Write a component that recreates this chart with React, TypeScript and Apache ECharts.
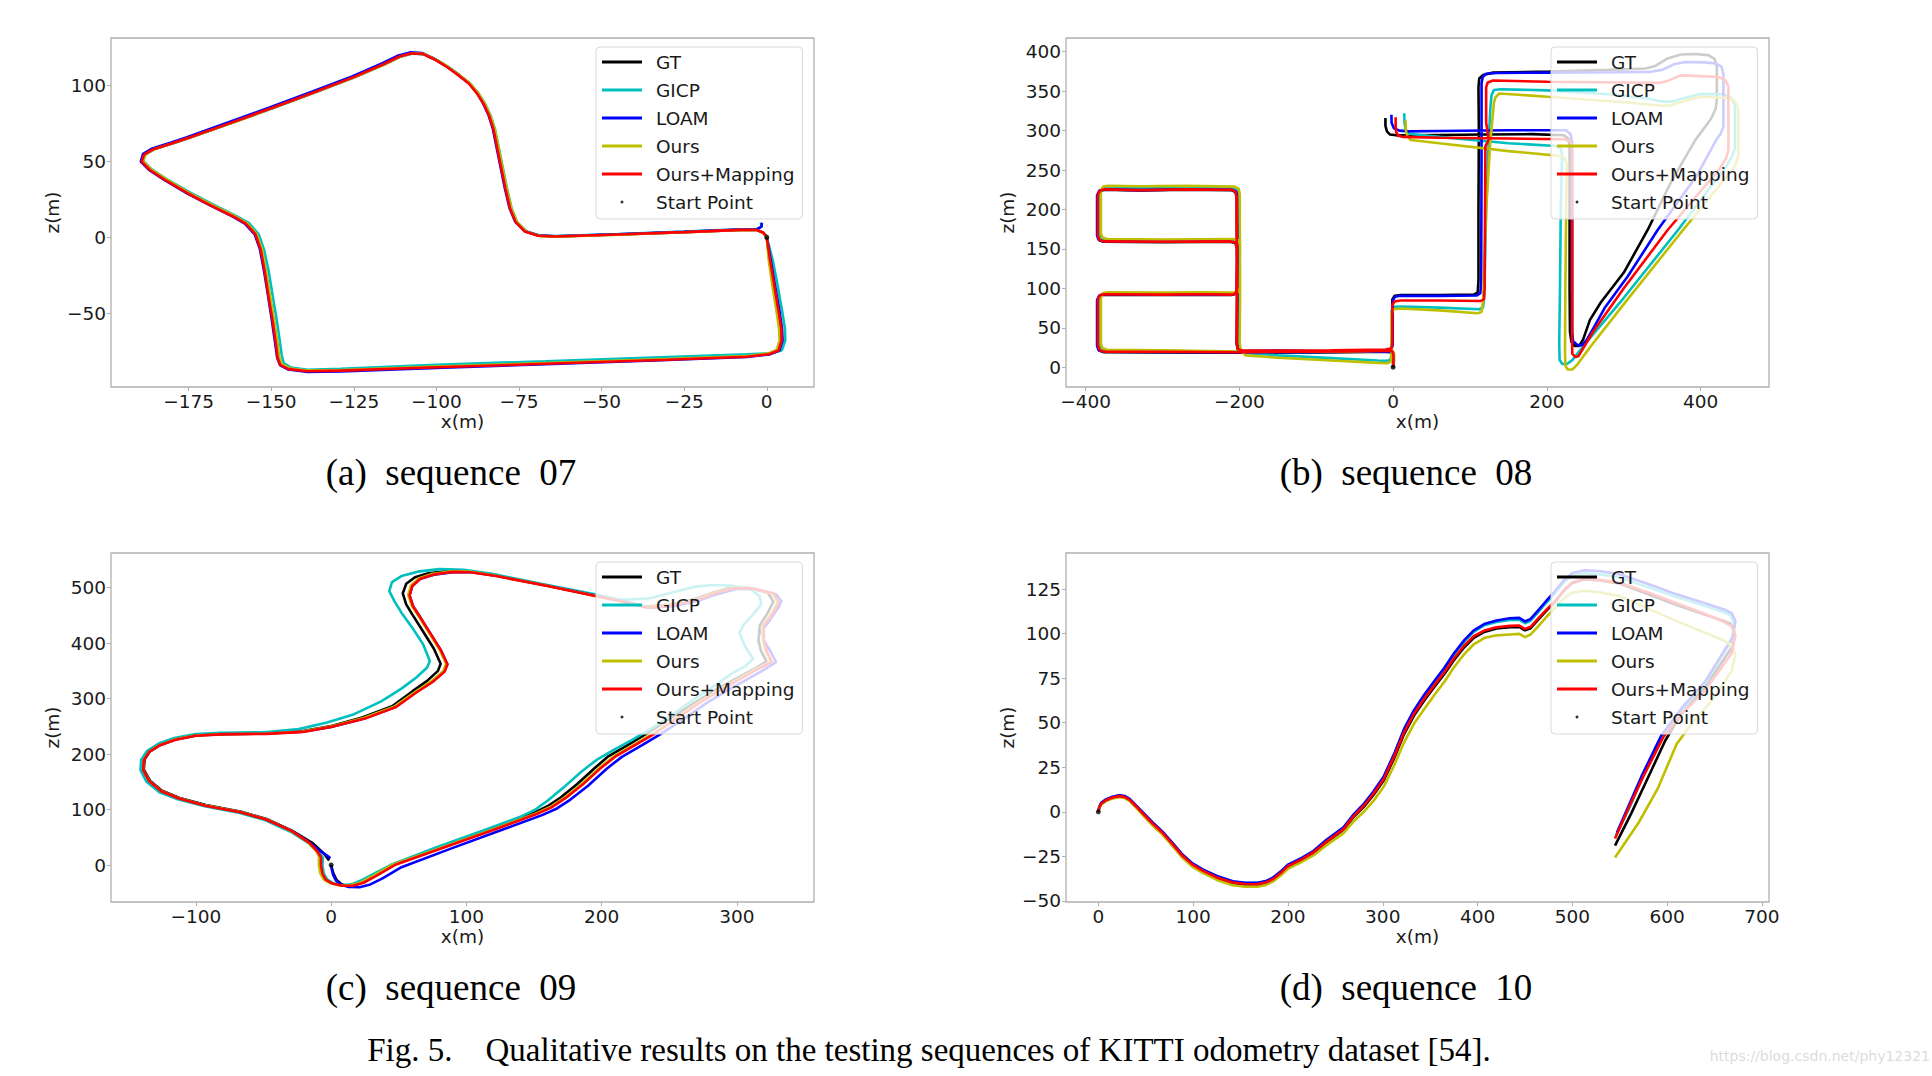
import React, { useEffect, useRef } from "react";
import * as echarts from "echarts";

// ---------- names / colours ----------
const SERIES_NAMES = ["GT", "GICP", "LOAM", "Ours", "Ours+Mapping"];
const SERIES_COLORS = ["#000000", "#00bfbf", "#0000ff", "#bfbf00", "#ff0000"];
const START_NAME = "Start Point";
const CAPTIONS = ["(a) \u00a0sequence \u00a007", "(b) \u00a0sequence \u00a008", "(c) \u00a0sequence \u00a009", "(d) \u00a0sequence \u00a010"];
const FIG_CAPTION = "Fig. 5.\u00a0\u00a0\u00a0 Qualitative results on the testing sequences of KITTI odometry dataset [54].";
const WATERMARK = "https://blog.csdn.net/phy12321";

// ---------- axis ticks ----------
const A_XTICKS = [-175, -150, -125, -100, -75, -50, -25, 0];
const A_YTICKS = [-50, 0, 50, 100];
const B_XTICKS = [-400, -200, 0, 200, 400];
const B_YTICKS = [0, 50, 100, 150, 200, 250, 300, 350, 400];
const C_XTICKS = [-100, 0, 100, 200, 300];
const C_YTICKS = [0, 100, 200, 300, 400, 500];
const D_XTICKS = [0, 100, 200, 300, 400, 500, 600, 700];
const D_YTICKS = [-50, -25, 0, 25, 50, 75, 100, 125];

// axis ranges [xmin, xmax, ymin, ymax]
const A_RANGE = [-198.5, 14.3, -98.8, 131.5];
const B_RANGE = [-425.4, 488.8, -25.1, 417.4];
const C_RANGE = [-162.8, 357.1, -66.7, 562.6];
const D_RANGE = [-34.1, 707.4, -50.6, 145.2];

const START_POINT = [[0, 0]];

// ---------- sequence 07 ----------
const A_GT = [[0,0],[0.8,-15],[2,-32],[3.2,-48],[4,-60],[4.2,-68],[3.3,-74.5],[0.5,-77],[-6,-78.5],[-30,-80.5],[-67,-83.2],[-100,-85.5],[-129,-87.8],[-139,-88.2],[-144.5,-86.8],[-147,-84],[-147.8,-79],[-148.3,-70],[-149.3,-55],[-150.6,-38],[-151.8,-22],[-153,-8],[-154.6,2],[-157.5,9],[-161,13.5],[-168,21],[-175,29],[-182,38],[-186.5,44.5],[-189,50],[-188.3,54.5],[-185.5,58],[-180,61.8],[-175,65.5],[-162,75.5],[-150,85],[-137,95.5],[-125,105.5],[-116,114],[-111,119.3],[-107.5,121.3],[-104,121],[-100.5,117.5],[-97,113],[-93.5,107.5],[-90,101.5],[-87.5,95],[-85.5,88],[-83.8,80],[-82.5,71],[-81.3,58],[-80.2,46],[-78.9,32],[-77.5,19],[-75.8,10],[-73,3.8],[-69,1],[-64,0.5],[-45,1.8],[-25,3.4],[-8,4.9],[-3,4.8],[-1,3],[-0.2,1]];
const A_GICP = [[0,0],[1.8,-15],[3.3,-32],[4.6,-48],[5.5,-60],[5.6,-68],[4.6,-74.5],[1.5,-76.5],[-6,-77.3],[-30,-79],[-67,-81.8],[-100,-84.2],[-129,-86.8],[-139,-87.4],[-144,-86],[-146.2,-83],[-146.8,-78],[-147.3,-70],[-148.3,-55],[-149.6,-38],[-150.8,-22],[-152.2,-8],[-153.8,2],[-156.8,9.5],[-160.5,14],[-167.5,21.5],[-174.5,29.5],[-181.8,38.5],[-186.3,45],[-188.8,50.5],[-188,55],[-185.2,58.5],[-179.8,62],[-174.8,65.6],[-161.8,75.5],[-149.8,85],[-136.8,95.5],[-124.8,105.5],[-115.8,114],[-110.8,119.2],[-107.3,121.2],[-103.7,120.8],[-100.2,117.3],[-96.7,112.8],[-93.2,107.3],[-89.7,101.3],[-87.2,94.8],[-85.2,87.8],[-83.5,79.8],[-82.2,70.8],[-81,57.8],[-79.9,45.8],[-78.6,31.8],[-77.2,18.8],[-75.5,9.8],[-72.7,3.8],[-68.7,1.2],[-64,0.8],[-45,2.2],[-25,3.8],[-8,5.3],[-3,5.5],[-1.5,7],[-1.8,9.8]];
const A_LOAM = [[0,0],[1.2,-15],[2.5,-32],[3.8,-48],[4.6,-60],[4.8,-68],[3.8,-74.8],[0.8,-77.3],[-6,-78.9],[-30,-81],[-67,-83.8],[-100,-86.2],[-129,-88.5],[-139,-88.9],[-144.8,-87.3],[-147.3,-84.5],[-148.2,-79.5],[-148.8,-70],[-149.8,-55],[-151,-38],[-152.2,-22],[-153.4,-8],[-155,2],[-158,9],[-161.5,13.5],[-168.5,21],[-175.5,29],[-182.5,38],[-187,44.5],[-189.5,50],[-188.8,55],[-186,58.6],[-180.5,62.4],[-175.5,66.1],[-162.5,76.2],[-150.5,85.7],[-137.5,96.2],[-125.5,106.2],[-116.5,114.7],[-111.5,120],[-108,122],[-104.3,121.6],[-100.8,118],[-97.3,113.5],[-93.8,108],[-90.3,102],[-87.8,95.5],[-85.9,88.5],[-84.2,80.5],[-82.9,71.5],[-81.7,58.5],[-80.6,46.5],[-79.3,32.5],[-77.9,19.5],[-76.2,10.5],[-73.4,4.2],[-69.3,1.3],[-64,0.7],[-45,2],[-25,3.6],[-8,5.1],[-3,5.2],[-1.6,7],[-1.5,9.5]];
const A_OURS = [[0,0],[0.6,-15],[1.7,-32],[2.9,-48],[3.7,-60],[3.9,-68],[3,-74.3],[0.3,-76.8],[-6,-78.3],[-30,-80.3],[-67,-83],[-100,-85.3],[-129,-87.6],[-139,-88],[-144.3,-86.6],[-146.8,-83.8],[-147.6,-78.8],[-148.1,-70],[-149.1,-55],[-150.4,-38],[-151.6,-22],[-152.8,-8],[-154.4,2],[-157.3,9.2],[-160.8,13.7],[-167.8,21.2],[-174.8,29.2],[-181.8,38.2],[-186.3,44.7],[-188.8,50.2],[-188.1,54.7],[-185.3,58.2],[-179.8,62],[-174.8,65.6],[-161.8,75.6],[-149.8,85.1],[-136.8,95.6],[-124.8,105.6],[-115.8,114],[-110.8,119.4],[-107.3,121.3],[-103.8,121],[-100.3,117.4],[-96.8,112.9],[-93.3,107.4],[-89.8,101.4],[-87.3,94.9],[-85.3,87.9],[-83.6,79.9],[-82.3,70.9],[-81.1,57.9],[-80,45.9],[-78.7,31.9],[-77.3,18.9],[-75.6,9.9],[-72.8,3.7],[-68.8,0.9],[-64,0.4],[-45,1.7],[-25,3.3],[-8,4.8],[-3,4.7],[-1,2.8],[-0.2,0.8]];
const A_MAP = [[0,0],[1,-15],[2.3,-32],[3.5,-48],[4.4,-60],[4.5,-68],[3.6,-74.7],[0.6,-77.2],[-6,-78.8],[-30,-80.8],[-67,-83.5],[-100,-85.8],[-129,-88],[-139,-88.4],[-144.7,-87],[-147.3,-84.2],[-148.1,-79.2],[-148.6,-70],[-149.6,-55],[-150.9,-38],[-152,-22],[-153.2,-8],[-154.8,2],[-157.7,9],[-161.2,13.4],[-168.2,20.9],[-175.2,28.9],[-182.2,37.9],[-186.7,44.4],[-189.2,49.9],[-188.5,54.5],[-185.7,58.1],[-180.2,61.9],[-175.2,65.5],[-162.2,75.5],[-150.2,85],[-137.2,95.5],[-125.2,105.5],[-116.2,114],[-111.2,119.3],[-107.7,121.3],[-104.2,121],[-100.7,117.5],[-97.2,113],[-93.7,107.5],[-90.2,101.5],[-87.7,95],[-85.7,88],[-84,80],[-82.7,71],[-81.5,58],[-80.4,46],[-79.1,32],[-77.7,19],[-76,10],[-73.2,3.8],[-69.2,1],[-64,0.5],[-45,1.8],[-25,3.4],[-8,4.9],[-3,4.8],[-1.2,3.2],[-0.4,1.2]];

// ---------- sequence 08 ----------
const B_GT = [[0,0],[0,10],[-0.5,19],[-10,19.5],[-60,19],[-120,18.5],[-200,18.5],[-300,18.8],[-376,19],[-382,21],[-384,27],[-384,85],[-381,91],[-375,92],[-300,91.5],[-250,92],[-210,91.5],[-205,93],[-203.5,98],[-203,150],[-205,157.5],[-212,159],[-300,158.5],[-376,159],[-382,161],[-384,167],[-384,218],[-381,223.5],[-375,225],[-330,224],[-270,225],[-210,224.5],[-205,222],[-203.5,216],[-203,100],[-203.5,30],[-202,22],[-196,20],[-150,20.5],[-80,19.5],[-10,20],[-2,22],[-1,30],[-1,86],[2,90.5],[10,91.5],[60,91.5],[105,92],[110,95],[111,110],[111,200],[111.5,300],[111,355],[112,366],[117,370.5],[130,373.5],[203,375],[280,377],[328,378.8],[341,382],[357,391.5],[374,396.5],[393,397.2],[410,395.7],[418,391],[421,380],[421,340],[419.5,328],[414,316],[406,305],[393,288],[362,236],[331,174],[300,120],[270,82],[256,60],[247,35],[242,27],[236,27],[232,32],[230,45],[229.5,100],[229.5,200],[229.5,280],[228,290],[222,294],[180,295.5],[120,295],[60,294.5],[12,294],[4,294],[-4,295],[-8,299],[-10,306],[-10,316]];
const B_GICP = [[0,0],[1,8],[1,18],[-2,20.5],[-10,20.5],[-60,19.5],[-120,19],[-200,19.5],[-300,20.5],[-373,21],[-379,23],[-381,29],[-381,87],[-378,93],[-372,94],[-300,93.5],[-250,94],[-207,93.5],[-202,95],[-200.5,100],[-200,152],[-202,159.5],[-209,161],[-300,160.5],[-373,161],[-379,163],[-381,169],[-381,221],[-378,226.5],[-372,228],[-330,227],[-270,228],[-207,227],[-202,224],[-200.5,218],[-200,100],[-200.5,30],[-199,22],[-193,18],[-150,15],[-80,11.5],[-20,8.5],[-8,8],[-3,10],[-2,20],[-2,72],[1,76.5],[10,77],[60,75.5],[112,73.5],[117,76],[118.5,90],[121,200],[124,280],[126.5,330],[128,345],[131,351.5],[140,352.5],[200,351],[280,346],[330,341],[348,337],[362,336.5],[380,341.5],[400,346.5],[430,346],[439,342],[444.6,332],[444.6,278],[441,268],[434,256],[370.5,174],[300,88],[250,30],[233,9],[226,4],[220,4],[216.5,9],[216,30],[217,100],[218,200],[219.7,270],[218,277],[212,280.5],[150,284],[60,292],[20,296],[16.5,300],[14.8,310],[14.5,322]];
const B_LOAM = [[0,0],[0.3,10],[0,19],[-10,19.8],[-60,19.5],[-120,19],[-200,19],[-300,19.3],[-377,19.5],[-383,21.5],[-385,27],[-385,85],[-382,91],[-376,92.5],[-300,92],[-250,92.3],[-210,92],[-204,93.5],[-202.5,98],[-202,150],[-204,157.5],[-211,159.5],[-300,159],[-377,159.5],[-383,161.5],[-385,167],[-385,218],[-382,224],[-376,225.5],[-330,224.5],[-270,225.5],[-210,225],[-204,222.5],[-202.3,216],[-202,100],[-202.5,30],[-201,22],[-195,20.5],[-150,21],[-80,20],[-10,21],[-2,23],[-0.5,30],[-0.5,84],[2.5,89.5],[10,90.5],[60,90.5],[109,91],[113.5,94],[114.5,110],[114.8,200],[115,300],[115,360],[116.5,368],[121,372],[135,373],[203,373.5],[290,374],[335,374.5],[350,377],[365,384],[380,387],[405,386.5],[420,385],[427,381],[429.5,372],[429.5,305],[426,296],[420,288],[395,243],[344,174],[305,115],[275,75],[262,52],[252,35],[246,28],[240,28],[234,33],[232.8,45],[232.8,100],[232.8,200],[232.8,285],[231,295],[225,300.5],[150,300.5],[60,299.5],[20,299],[8,300],[1,303],[-2,310],[-2.2,320]];
const B_OURS = [[0,0],[1,8],[1,18],[-2,21],[-10,21],[-60,20],[-120,19.5],[-200,20],[-300,21.5],[-372,22],[-378,24],[-380,30],[-380,88],[-377,94],[-371,95],[-300,94.5],[-250,95],[-206,94.5],[-201,96],[-199.5,101],[-199,154],[-201,161],[-208,162.5],[-300,162],[-372,162.5],[-378,164.5],[-380,170],[-380,224],[-377,229],[-371,230],[-330,229.5],[-270,230],[-206,229],[-201,226.5],[-199.5,220],[-199,100],[-199.5,30],[-198,21],[-192,15],[-150,12],[-80,8.5],[-20,5.5],[-8,5],[-3,7],[-2,18],[-2,68],[1,73.5],[10,74.5],[60,72],[110,68.5],[115,70],[117,85],[121,200],[126,280],[131,335],[133,342],[138,347],[200,343],[300,336],[350,331.5],[362,332],[380,338],[400,343],[440,341],[446,335],[449,326],[449,270],[446,258],[440,249],[377,174],[300,80],[255,24],[240,4],[233,-3],[227,-3],[224,2],[223.5,20],[224,100],[225,200],[226,258],[223,265],[216,268],[150,274],[60,284],[23,288],[18.5,293],[16.6,300],[16.4,313]];
const B_MAP = [[0,0],[0.5,5],[0.5,15],[-1,20.5],[-10,21],[-60,20],[-120,19.5],[-200,19],[-300,19.5],[-376,19.5],[-382,22],[-384,28],[-384,86],[-381,91.5],[-375,92.5],[-300,92],[-250,92.5],[-210,92],[-205,93.5],[-203.5,98],[-203,150],[-205,158],[-212,159.5],[-300,159],[-376,159.5],[-382,161.5],[-384,167],[-384,219],[-381,224],[-375,225.5],[-330,224.5],[-270,225.5],[-210,225],[-205,222.5],[-203.5,216],[-203,100],[-203.5,30],[-202,23],[-196,21],[-150,21],[-80,21.5],[-10,22.5],[-2,24],[-1,32],[-1,79],[2,83.5],[10,84.5],[60,84.5],[114,84],[118,86],[119,100],[119.5,200],[120,280],[124,288],[123.5,295],[121,310],[121,355],[123,361],[130,363.5],[200,362],[300,361],[345,360.5],[357,363],[374,370],[400,369],[423,368],[432,364],[436,356],[436,275],[433,265],[425,252],[357,174],[300,100],[260,45],[246,22],[241,14],[237,13],[233,17],[232.8,30],[232.8,100],[232.8,200],[232.8,280],[230,286.5],[223,289],[150,290],[60,291],[13,292],[7,293.5],[4,298],[3.3,305],[3.3,317]];

// ---------- sequence 09 ----------
const C_GT = [[0,0],[1.5,-14],[4,-27],[8,-35],[13,-38],[20,-34],[30,-22],[45.6,1],[83,34],[120,67],[150,94],[160,106],[170,122],[182,146],[195,175],[205,196],[220,217],[232,235],[251,265],[270,294],[286,318],[300,337],[314,355],[322,367],[318,385],[316,405],[317,432],[323,455],[327,475],[323,491],[308,500],[295,500],[281,490],[268,479],[250,469],[232,466],[213,477],[195,486],[158,505],[120,523],[101,530],[86,530],[72,526],[62,519],[55.5,507],[53,490],[55.5,470],[60,452],[68,421],[76,390],[81,363],[79,350],[71,332],[60,313],[45.6,287],[23,266],[1,251],[-21.7,241],[-47.8,237.5],[-81.4,236.5],[-100,234],[-115,227],[-126,217],[-134,205],[-138,190],[-138.5,172],[-134,152],[-125,134],[-112,121],[-92.6,108],[-66.5,96],[-47.8,83],[-29,62],[-14,40],[-5,20],[-1.5,8]];
const C_GICP = [[-6,14],[-6.5,0],[-5.5,-15],[-3,-26],[1.5,-33],[8,-36.5],[15,-35],[22,-28],[32,-15],[45,1],[78,32],[112,62],[141,88],[151,100],[160,116],[172,140],[185,168],[196,189],[210,209],[223,226],[242,254],[258,281],[272,305],[286,327],[296,345],[306,358],[312,372],[306,395],[302,418],[305,433],[312,452],[318,470],[317,484],[310,498],[295,504],[282,505],[270,502],[255,493],[236,481],[215,478],[195,488],[157,506],[119,525],[98,532.5],[80,533.5],[64,529],[52,521],[45,510],[43,494],[47,475],[52,455],[60,428],[68,398],[73,368],[71,356],[63,338],[52,318],[37,295],[17,272],[-3,257],[-24,245],[-49,239.5],[-81.4,238.5],[-100,236],[-116,229],[-127.5,219],[-136,206],[-140.5,190],[-141,171],[-136.5,150],[-127,131],[-113.5,118.5],[-93.5,106],[-67.5,94],[-49,81],[-30,60],[-17,40],[-10,24],[-6,14]];
const C_LOAM = [[0,0],[0.5,-8],[1.5,-18],[3.5,-28],[7,-35],[13,-39.5],[21,-40],[29,-35],[38,-24],[52,-4],[89,30],[126,63],[156,90],[167,102],[177,118],[190,143],[204,174],[215,195],[230,216],[243,235],[260,262],[277,291],[293,315],[307,334],[320,352],[329,366],[325,385],[320,405],[318,421],[324,440],[331,465],[333,476],[329,488],[313,498],[300,498],[285,488],[272,477],[254,467],[236,464],[217,475],[199,484],[161,503],[123,521],[104,528],[90,528],[76,523.5],[66,516],[60,503],[58,486],[60.5,467],[65,450],[73,419],[81,388],[86,362],[83.5,349],[74.5,330],[62.5,311],[47.5,285],[24.5,264],[2,250],[-21,240.5],[-47.8,237],[-81.4,236],[-100,233.5],[-115,226.5],[-126.5,216.5],[-134.5,204.5],[-138.5,189.5],[-139,171.5],[-134.5,151.5],[-125.5,133.5],[-112.5,120.5],[-93,107.5],[-67,95.5],[-48,82.5],[-29,61.5],[-16,41],[-8,25],[-3,17],[-0.5,12]];
const C_OURS = [[-9,16],[-9,0],[-8,-15],[-5.5,-26],[-0.5,-33],[6.5,-37],[14,-37],[22,-31.5],[31,-19.5],[45.5,0.5],[84,33.5],[121,65.5],[151,92.5],[162,104.5],[172,120.5],[185,145.5],[199,176.5],[210,197.5],[225,218.5],[239,238.5],[255,265.5],[272,293.5],[288,317.5],[302,336.5],[315,354.5],[325,366.5],[321,386],[319,406],[319,432],[326,455],[330,474],[326,490],[310,499.5],[297,499.5],[282,489.5],[269,478.5],[251,468.5],[233,465],[214,476],[196,485],[159,504],[121,522],[102,529],[89,529.5],[75,525],[65,517],[59,504],[57,487],[59.5,468],[64,451],[72,420],[80,389],[85,363],[83,350],[74,331],[62,312],[47,286],[24,265],[1.5,250.5],[-21.5,240.5],[-47.8,237],[-81.4,236],[-100,233.5],[-115.5,226.5],[-126.5,216.5],[-134.5,204.5],[-138.5,189.5],[-139,171.5],[-134.5,151.5],[-125.5,133.5],[-112.5,120.5],[-93,107.5],[-67,95.5],[-48,82.5],[-29.5,61.5],[-17,41],[-11,25],[-9,16]];
const C_MAP = [[-7.5,14],[-7.5,0],[-6.5,-15],[-4,-26.5],[1,-33.5],[8,-37.5],[16,-37.5],[24,-32],[33,-20],[47,0],[85,33],[122,65],[152,92],[163,104],[173,120],[186,145],[200,176],[211,197],[226,218],[240,238],[256,265],[273,293],[289,317],[303,336],[316,354],[326,366],[322,386],[320,406],[320,432],[327,455],[331,474],[327,490],[311,499],[298,499],[283,489],[270,478],[252,468],[234,464],[215,475],[197,484],[160,503],[122,521],[103,528],[90,528.5],[76,524],[66,516],[60,503],[58,486],[60.5,467],[65,450],[73,419],[81,388],[86,362],[84,349],[75,330],[63,311],[48,285],[25,264],[2,250],[-21,240],[-47.8,236.5],[-81.4,235.5],[-100,233],[-115,226],[-126.5,216],[-134.5,204],[-138.5,189],[-139,171],[-134.5,151],[-125.5,133],[-112.5,120],[-93,107],[-67,95],[-48,82],[-29,61],[-16,40],[-10,24],[-7.5,14]];

// ---------- sequence 10 ----------
const D_GT = [[0,0],[1,2.3],[3,4.3],[8,6.3],[15,7.8],[22,8.6],[28,8.1],[33,6.5],[40,2.8],[46,-0.6],[57,-6.7],[67.4,-11.8],[78,-18.2],[88.7,-24.9],[99,-29.7],[110,-33.2],[125,-37],[141.8,-39.9],[155,-40.7],[168,-40.8],[177,-39.7],[184,-38],[193,-34.2],[200,-30.7],[205.5,-29.2],[215,-26.7],[226.8,-23],[240,-17.3],[258.6,-10],[270,-2.5],[280,2.8],[290,9.3],[301,17.6],[312,30],[322.5,43.6],[333,54],[343.6,62.3],[355,70.5],[365,77.3],[375,85],[386,92.3],[396,97.6],[407,100.9],[420,102.8],[434,103.6],[444,103.7],[450,101.8],[456,103],[463,107.2],[472,112.4],[482,118],[492,124.6],[500,128.4],[513,130.5],[530,129.8],[550,128],[580,122],[610,116],[640,110.5],[660,107],[667,105.5],[671,101],[668,92],[640,70],[615,55],[598,40],[577,16],[562,-1],[545,-19]];
const D_GICP = [[0,0],[1,2.6],[3,4.7],[8,6.8],[15,8.3],[22,9.1],[28,8.6],[33,7],[40,3.3],[46,0],[57,-6],[67.4,-11.2],[78,-17.5],[88.7,-24.2],[99,-29],[110,-32.5],[125,-36.2],[141.8,-39.2],[155,-40],[168,-40],[177,-39],[184,-37.2],[193,-33.4],[200,-30],[205.5,-28.4],[215,-26],[226.8,-22.2],[240,-16.3],[258.6,-9],[270,-1.4],[280,4],[290,10.8],[301,19.3],[312,32],[322.5,46],[333,56.4],[343.6,65],[355,73.2],[365,80.2],[375,88],[386,95.5],[396,101],[407,104.6],[420,106.5],[434,107.6],[444,107.8],[450,105.8],[456,107.2],[463,111.5],[472,117],[482,123],[492,129.3],[500,132.5],[513,133.8],[530,133.2],[550,131.5],[580,126],[610,120.5],[640,115.5],[660,112],[667,110],[671,105],[668,96],[640,72],[615,57],[595,42.5],[574,19.5],[560,2],[546,-13]];
const D_LOAM = [[0,0],[1,2.8],[3,5],[8,7],[15,8.5],[22,9.3],[28,8.8],[33,7.2],[40,3.5],[46,0.2],[57,-5.8],[67.4,-11],[78,-17.3],[88.7,-24],[99,-28.8],[110,-32.3],[125,-36],[141.8,-39],[155,-39.8],[168,-39.8],[177,-38.8],[184,-37],[193,-33.2],[200,-29.7],[205.5,-28.2],[215,-25.7],[226.8,-22],[240,-16],[258.6,-8.7],[270,-1],[280,4.5],[290,11.2],[301,19.8],[312,32.5],[322.5,46.5],[333,57],[343.6,65.5],[355,73.8],[365,80.8],[375,88.8],[386,96.3],[396,101.8],[407,105.3],[420,107.3],[434,108.6],[444,108.8],[450,106.8],[456,108.2],[463,112.5],[472,118],[482,124],[492,130.5],[500,134],[513,135.5],[530,135],[550,133.2],[580,127.8],[610,122],[640,117],[660,113.5],[668,111.5],[672,107],[669,98],[640,73],[615,58],[594,43],[573,20],[559,3],[547,-11.6]];
const D_OURS = [[0,0],[1,2],[3,4],[8,6],[15,7.5],[22,8.2],[28,7.7],[33,6],[40,2.2],[46,-1.3],[57,-7.5],[67.4,-12.6],[78,-19],[88.7,-25.8],[99,-30.7],[110,-34.3],[125,-38.2],[141.8,-41.2],[155,-42],[168,-42],[177,-41],[184,-39.2],[193,-35.5],[200,-32],[205.5,-30.5],[215,-28],[226.8,-24.5],[240,-19],[258.6,-12],[270,-5],[280,0],[290,6],[301,14],[312,26],[322.5,39],[333,49.5],[343.6,57.5],[355,66],[365,73],[375,81],[386,88.5],[396,94],[407,97.5],[420,99],[434,99.5],[444,99.8],[450,98],[456,99.5],[463,103.5],[472,109],[482,114.5],[492,120],[500,123],[513,124],[530,123],[550,121],[580,114],[610,107],[640,100.5],[660,96],[668,93.5],[672,88],[668,79],[648,63],[628,51],[610,38],[590,13],[570,-6],[545,-25.6]];
const D_MAP = [[0,0],[1,2.5],[3,4.5],[8,6.5],[15,8],[22,8.8],[28,8.3],[33,6.7],[40,3],[46,-0.4],[57,-6.5],[67.4,-11.6],[78,-18],[88.7,-24.7],[99,-29.5],[110,-33],[125,-36.8],[141.8,-39.7],[155,-40.5],[168,-40.6],[177,-39.5],[184,-37.8],[193,-34],[200,-30.5],[205.5,-29],[215,-26.5],[226.8,-22.8],[240,-17],[258.6,-9.7],[270,-2],[280,3.4],[290,10],[301,18.4],[312,31],[322.5,44.6],[333,55],[343.6,63.3],[355,71.5],[365,78.3],[375,86],[386,93.3],[396,98.5],[407,101.7],[420,103.5],[434,104.3],[444,104.5],[450,102.6],[456,103.8],[463,108],[472,113],[482,118.5],[492,125],[500,128.8],[513,130.7],[530,130],[550,128.5],[580,123],[610,117],[640,111],[660,106.5],[668,104],[672,99],[668,89],[640,68],[615,55],[596,42],[575,20],[560,3],[545,-15]];

// ---------- layout ----------
const GRIDS = [
  { left: 111, top: 38, width: 703, height: 349 },
  { left: 1066, top: 38, width: 703, height: 349 },
  { left: 111, top: 553, width: 703, height: 349 },
  { left: 1066, top: 553, width: 703, height: 349 },
];
const LEGEND_POS = [
  { left: 596, top: 47 },
  { left: 1551, top: 47 },
  { left: 596, top: 562 },
  { left: 1551, top: 562 },
];
const CAPTION_POS = [
  [451, 472], [1406, 472], [451, 987], [1406, 987],
];

const PANELS = [
  { range: A_RANGE, xt: A_XTICKS, yt: A_YTICKS, lines: [A_GT, A_GICP, A_LOAM, A_OURS, A_MAP] },
  { range: B_RANGE, xt: B_XTICKS, yt: B_YTICKS, lines: [B_GT, B_GICP, B_LOAM, B_OURS, B_MAP] },
  { range: C_RANGE, xt: C_XTICKS, yt: C_YTICKS, lines: [C_GT, C_GICP, C_LOAM, C_OURS, C_MAP] },
  { range: D_RANGE, xt: D_XTICKS, yt: D_YTICKS, lines: [D_GT, D_GICP, D_LOAM, D_OURS, D_MAP] },
];

const TICK_FONT = "'DejaVu Sans', sans-serif";
const SERIF = "'Liberation Serif', 'Times New Roman', serif";
const TEXT_COLOR = "#1a1a1a";
const SPINE = "#b0b0b0";
const FS = 18.5;

const fmt = (v: number) => (v < 0 ? "\u2212" + String(-v) : String(v));

function buildOption() {
  const grid: any[] = [];
  const xAxis: any[] = [];
  const yAxis: any[] = [];
  const series: any[] = [];
  const legend: any[] = [];
  const graphic: any[] = [];

  PANELS.forEach((p, i) => {
    grid.push({ ...GRIDS[i], show: true, borderColor: SPINE, borderWidth: 1.3, backgroundColor: "transparent" });
    xAxis.push({
      type: "value", gridIndex: i, min: p.range[0], max: p.range[1], position: "bottom",
      axisLine: { show: false, onZero: false },
      axisTick: { show: true, length: 4, lineStyle: { color: SPINE, width: 1 }, customValues: p.xt },
      axisLabel: { customValues: p.xt, formatter: fmt, fontFamily: TICK_FONT, fontSize: FS, color: TEXT_COLOR, margin: 5 },
      splitLine: { show: false },
      name: "x(m)", nameLocation: "middle", nameGap: 25,
      nameTextStyle: { fontFamily: TICK_FONT, fontSize: FS, color: TEXT_COLOR },
    });
    yAxis.push({
      type: "value", gridIndex: i, min: p.range[2], max: p.range[3], position: "left",
      axisLine: { show: false, onZero: false },
      axisTick: { show: true, length: 4, lineStyle: { color: SPINE, width: 1 }, customValues: p.yt },
      axisLabel: { customValues: p.yt, formatter: fmt, fontFamily: TICK_FONT, fontSize: FS, color: TEXT_COLOR, margin: 5 },
      splitLine: { show: false },
      name: "z(m)", nameLocation: "middle", nameGap: 49,
      nameTextStyle: { fontFamily: TICK_FONT, fontSize: FS, color: TEXT_COLOR },
    });
    p.lines.forEach((d, k) => {
      series.push({
        type: "line", name: SERIES_NAMES[k], xAxisIndex: i, yAxisIndex: i,
        data: d, symbol: "none", showSymbol: false, smooth: false,
        lineStyle: { color: SERIES_COLORS[k], width: 2.6 },
        itemStyle: { color: SERIES_COLORS[k] },
        z: 2, silent: true,
      });
    });
    series.push({
      type: "scatter", name: START_NAME, xAxisIndex: i, yAxisIndex: i,
      data: START_POINT, symbol: "circle", symbolSize: 5,
      itemStyle: { color: "#000" }, z: 3, silent: true,
    });
    legend.push({
      ...LEGEND_POS[i], orient: "vertical", selectedMode: false,
      itemWidth: 40, itemHeight: 3, itemGap: 8,
      padding: [5, 8, 7, 6],
      backgroundColor: "rgba(255,255,255,0.8)", borderColor: "#d9d9d9", borderWidth: 1, borderRadius: 4,
      textStyle: { fontFamily: TICK_FONT, fontSize: FS, color: TEXT_COLOR, lineHeight: 20, padding: [0, 0, 0, 9] },
      data: [
        ...SERIES_NAMES.map((n, k) => ({ name: n, icon: "rect", itemStyle: { color: SERIES_COLORS[k] } })),
        { name: START_NAME, icon: "circle", itemStyle: { color: "#000" } },
      ],
    });
    graphic.push({
      type: "text", x: CAPTION_POS[i][0], y: CAPTION_POS[i][1],
      style: { text: CAPTIONS[i], font: `37px ${SERIF}`, fill: "#000", align: "center", verticalAlign: "middle" },
    });
  });

  graphic.push({
    type: "text", x: 929, y: 1050,
    style: { text: FIG_CAPTION, font: `33px ${SERIF}`, fill: "#000", align: "center", verticalAlign: "middle" },
  });
  graphic.push({
    type: "text", x: 1930, y: 1056,
    style: { text: WATERMARK, font: `14px 'DejaVu Sans', sans-serif`, fill: "#dcdcdc", align: "right", verticalAlign: "middle" },
  });

  return { animation: false, backgroundColor: "#fff", grid, xAxis, yAxis, series, legend, graphic };
}

export default function App() {
  const ref = useRef<HTMLDivElement>(null);
  useEffect(() => {
    if (!ref.current) return;
    const chart = echarts.init(ref.current, null, { renderer: "svg", width: 1932, height: 1076 });
    chart.setOption(buildOption());
    return () => chart.dispose();
  }, []);
  return (
    <div
      ref={ref}
      style={{ position: "fixed", left: 0, top: 0, width: 1932, height: 1076, background: "#fff" }}
    />
  );
}
